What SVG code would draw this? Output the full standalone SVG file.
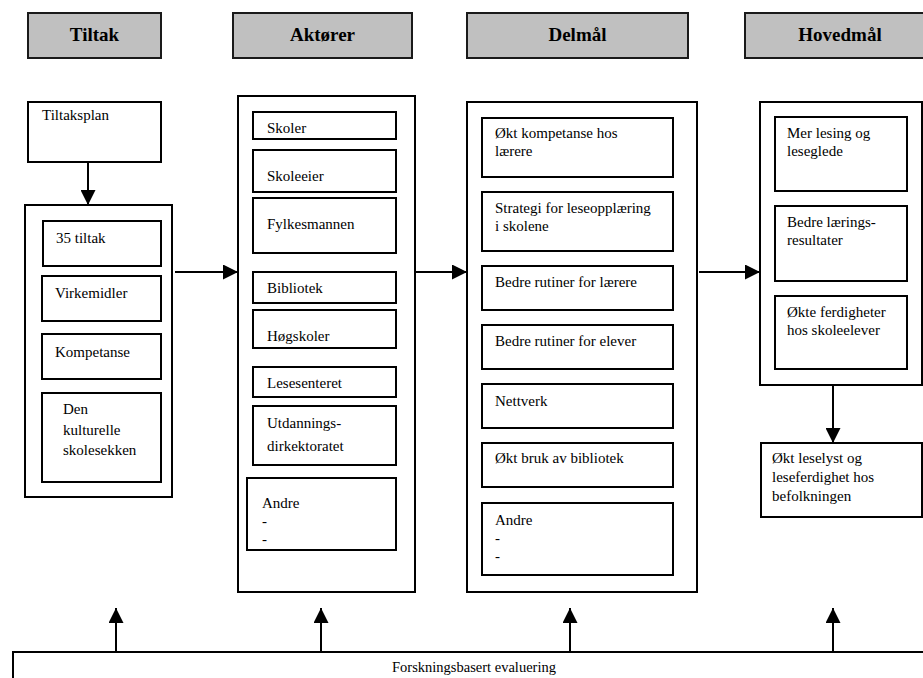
<svg xmlns="http://www.w3.org/2000/svg" width="923" height="678" viewBox="0 0 923 678" font-family="'Liberation Serif', 'DejaVu Serif', serif">
<style>
.hdr{fill:#c0c0c0;stroke:#1a1a1a;stroke-width:2}
.box{fill:#fff;stroke:#000;stroke-width:2}
.t{font-family:'Liberation Serif','DejaVu Serif',serif;font-size:15px;fill:#000}
.h{font-family:'Liberation Serif','DejaVu Serif',serif;font-size:19px;font-weight:bold;fill:#000;text-anchor:middle}
.c{stroke:#000;stroke-width:2;fill:none;marker-end:url(#ah)}
</style>
<defs>
<marker id="ah" markerUnits="userSpaceOnUse" markerWidth="15" markerHeight="15" refX="15" refY="7.5" orient="auto">
<path d="M0,0 L15,7.5 L0,15 z" fill="#000"/>
</marker>
</defs>
<rect width="923" height="678" fill="#fff"/>

<g id="h-tiltak"><rect class="hdr" x="28" y="13" width="133" height="45"/><text class="h" x="94.5" y="41">Tiltak</text></g>
<g id="h-aktorer"><rect class="hdr" x="233" y="13" width="179" height="45"/><text class="h" x="322.5" y="41">Aktører</text></g>
<g id="h-delmal"><rect class="hdr" x="467" y="13" width="221" height="45"/><text class="h" x="577.5" y="41">Delmål</text></g>
<g id="h-hovedmal"><rect class="hdr" x="745" y="13" width="190" height="45"/><text class="h" x="840" y="41">Hovedmål</text></g>

<g id="tiltaksplan"><rect class="box" x="28" y="102" width="133" height="60"/><text class="t" x="42" y="120">Tiltaksplan</text></g>

<g id="tiltak">
<rect class="box" x="25" y="205" width="147" height="292"/>
<g id="t-35"><rect class="box" x="43" y="221" width="118" height="45"/><text class="t" x="56" y="243">35 tiltak</text></g>
<g id="t-virk"><rect class="box" x="42" y="276" width="119" height="45"/><text class="t" x="55" y="298">Virkemidler</text></g>
<g id="t-komp"><rect class="box" x="42" y="334" width="119" height="45"/><text class="t" x="55" y="357">Kompetanse</text></g>
<g id="t-dks"><rect class="box" x="42" y="393" width="119" height="89"/><text class="t" x="63" y="414">Den</text><text class="t" x="63" y="435">kulturelle</text><text class="t" x="63" y="455">skolesekken</text></g>
</g>

<g id="aktorer">
<rect class="box" x="238" y="96" width="177" height="496"/>
<g id="a-skoler"><rect class="box" x="253" y="112" width="143" height="27"/><text class="t" x="267" y="133">Skoler</text></g>
<g id="a-skoleeier"><rect class="box" x="253" y="150" width="143" height="42"/><text class="t" x="267" y="181">Skoleeier</text></g>
<g id="a-fylke"><rect class="box" x="253" y="198" width="143" height="55"/><text class="t" x="267" y="229">Fylkesmannen</text></g>
<g id="a-bibl"><rect class="box" x="253" y="272" width="143" height="31"/><text class="t" x="267" y="293">Bibliotek</text></g>
<g id="a-hogsk"><rect class="box" x="253" y="310" width="143" height="38"/><text class="t" x="267" y="341">Høgskoler</text></g>
<g id="a-lese"><rect class="box" x="253" y="367" width="143" height="30"/><text class="t" x="267" y="388">Lesesenteret</text></g>
<g id="a-udir"><rect class="box" x="253" y="406" width="143" height="59"/><text class="t" x="267" y="428">Utdannings-</text><text class="t" x="267" y="451">dirkektoratet</text></g>
<g id="a-andre"><rect class="box" x="247" y="478" width="149" height="72"/><text class="t" x="262" y="508">Andre</text><text class="t" x="262" y="526">-</text><text class="t" x="262" y="544">-</text></g>
</g>

<g id="delmal">
<rect class="box" x="467" y="102" width="230" height="490"/>
<g id="d-komp"><rect class="box" x="482" y="118" width="191" height="59"/><text class="t" x="495" y="138">Økt kompetanse hos</text><text class="t" x="495" y="156">lærere</text></g>
<g id="d-strat"><rect class="box" x="482" y="192" width="191" height="59"/><text class="t" x="495" y="213">Strategi for leseopplæring</text><text class="t" x="495" y="231">i skolene</text></g>
<g id="d-laerere"><rect class="box" x="482" y="266" width="191" height="44"/><text class="t" x="495" y="287">Bedre rutiner for lærere</text></g>
<g id="d-elever"><rect class="box" x="482" y="325" width="191" height="44"/><text class="t" x="495" y="346">Bedre rutiner for elever</text></g>
<g id="d-nett"><rect class="box" x="482" y="384" width="191" height="44"/><text class="t" x="495" y="406">Nettverk</text></g>
<g id="d-bibl"><rect class="box" x="482" y="443" width="191" height="44"/><text class="t" x="495" y="463">Økt bruk av bibliotek</text></g>
<g id="d-andre"><rect class="box" x="482" y="503" width="191" height="72"/><text class="t" x="495" y="525">Andre</text><text class="t" x="495" y="543">-</text><text class="t" x="495" y="561">-</text></g>
</g>

<g id="hovedmal">
<rect class="box" x="760" y="102" width="162" height="283"/>
<g id="m-lesing"><rect class="box" x="775" y="117" width="132" height="74"/><text class="t" x="787" y="138">Mer lesing og</text><text class="t" x="787" y="156">leseglede</text></g>
<g id="m-laering"><rect class="box" x="775" y="206" width="132" height="75"/><text class="t" x="787" y="227">Bedre lærings-</text><text class="t" x="787" y="245">resultater</text></g>
<g id="m-ferd"><rect class="box" x="775" y="296" width="132" height="73"/><text class="t" x="787" y="317">Økte ferdigheter</text><text class="t" x="787" y="335">hos skoleelever</text></g>
</g>

<g id="leselyst"><rect class="box" x="761" y="443" width="161" height="74"/><text class="t" x="772" y="463">Økt leselyst og</text><text class="t" x="772" y="482">leseferdighet hos</text><text class="t" x="772" y="501">befolkningen</text></g>

<g id="evaluering"><rect class="box" x="13" y="652" width="930" height="40"/><text class="t" x="474" y="672" style="text-anchor:middle;font-size:14.5px">Forskningsbasert evaluering</text></g>

<g id="connectors">
<line class="c" x1="88" y1="162" x2="88" y2="205"/>
<line class="c" x1="175" y1="272" x2="238" y2="272"/>
<line class="c" x1="414" y1="272" x2="467" y2="272"/>
<line class="c" x1="699" y1="272" x2="760" y2="272"/>
<line class="c" x1="833" y1="385" x2="833" y2="443"/>
<line class="c" x1="116" y1="652" x2="116" y2="608"/>
<line class="c" x1="321" y1="652" x2="321" y2="608"/>
<line class="c" x1="570" y1="652" x2="570" y2="608"/>
<line class="c" x1="833" y1="652" x2="833" y2="608"/>
</g>
</svg>
